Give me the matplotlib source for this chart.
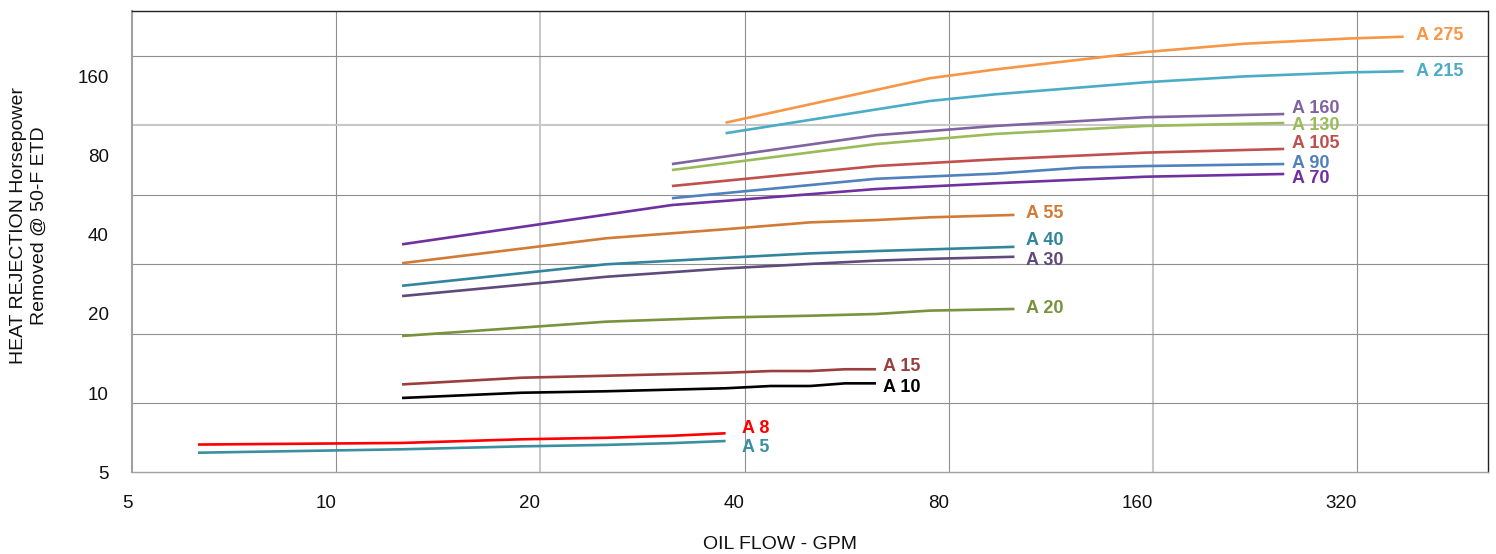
import matplotlib
matplotlib.use("Agg")
import matplotlib.pyplot as plt
from matplotlib.lines import Line2D
from matplotlib.ticker import FixedLocator, NullLocator, FixedFormatter, NullFormatter

plt.rcParams['font.family'] = ['Liberation Sans', 'DejaVu Sans']

# ---------------- data ----------------
x_small = [6.25, 12.5, 18.75, 25, 31.25, 37.5]
x_a10 = [12.5, 18.75, 25, 37.5, 43.75, 50, 56.25, 62.5]
x_mid = [12.5, 25, 37.5, 50, 62.5, 75, 100]
x_a70 = [12.5, 31.25, 62.5, 93.75, 156.25, 250]
x_a90 = [31.25, 62.5, 93.75, 125, 156.25, 250]
x_upper = [31.25, 62.5, 93.75, 156.25, 250]
x_top = [37.5, 75, 93.75, 156.25, 218.75, 312.5, 375]

a5 = [5.94, 6.12, 6.28, 6.36, 6.46, 6.58]
a8 = [6.38, 6.47, 6.68, 6.77, 6.89, 7.04]
a10 = [9.59, 10.04, 10.17, 10.44, 10.65, 10.65, 10.9, 10.9]
a15 = [10.8, 11.45, 11.65, 11.96, 12.14, 12.14, 12.33, 12.33]
a20 = [16.5, 18.7, 19.4, 19.7, 20.0, 20.6, 20.9]
a30 = [23.4, 27.7, 29.8, 31.0, 31.9, 32.4, 33.0]
a40 = [25.6, 30.9, 32.7, 34.0, 34.7, 35.2, 36.0]
a55 = [31.2, 38.8, 42.0, 44.6, 45.5, 46.6, 47.6]
a70 = [36.8, 51.9, 59.7, 62.8, 66.5, 68.1]
a90 = [55.1, 65.3, 68.3, 72.0, 73.0, 74.3]
a105 = [61.3, 73.0, 77.4, 82.1, 84.8]
a130 = [70.5, 88.5, 96.7, 103.7, 106.4]
a160 = [74.3, 95.6, 103.7, 111.9, 115.1]
a215 = [97.3, 129, 136.8, 152, 160, 165.7, 167.3]
a275 = [106.7, 157.4, 170, 198, 213, 223, 226.4]

series_names = ["A 275", "A 215", "A 160", "A 130", "A 105", "A 90", "A 70",
                "A 55", "A 40", "A 30", "A 20", "A 15", "A 10", "A 8", "A 5"]
series_x = [x_top, x_top, x_upper, x_upper, x_upper, x_a90, x_a70,
            x_mid, x_mid, x_mid, x_mid, x_a10, x_a10, x_small, x_small]
series_y = [a275, a215, a160, a130, a105, a90, a70,
            a55, a40, a30, a20, a15, a10, a8, a5]

x_ticks = [5, 10, 20, 40, 80, 160, 320]
y_ticks = [5, 10, 20, 40, 80, 160]

# ---------------- style ----------------
colors = ["#F79646", "#4BACC6", "#8064A2", "#9BBB59", "#C0504D", "#4F81BD", "#7030A0",
          "#D27B36", "#31859C", "#604A7B", "#77933C", "#9B3F3D", "#000000", "#FF0000", "#3A8FA0"]
# label offsets (pixels) from the last point of each line
label_off = [(12, 1), (12, 0), (8, 6), (8, -2), (8, 5), (8, 1), (8, -5),
             (12, 1), (12, 6), (12, -4), (12, 0), (7, 3), (7, -4), (16, 5), (16, -6)]

fig = plt.figure(figsize=(14.96, 5.54), dpi=100)
ax = fig.add_axes([0.0884, 0.1473, 0.9065, 0.8336])

ax.set_xscale('log', base=2)
ax.set_yscale('log', base=2)
ax.set_xlim(5, 500)
ax.set_ylim(5, 284.6)

for xs, ys, c, name, off in zip(series_x, series_y, colors, series_names, label_off):
    ax.plot(xs, ys, color=c, lw=1.9, solid_capstyle='butt', zorder=3)
    ax.annotate(name, xy=(xs[-1], ys[-1]), xytext=off, textcoords='offset pixels',
                ha='left', va='center', color=c, fontsize=13, fontweight='bold',
                zorder=4)

ax.xaxis.set_major_locator(FixedLocator(x_ticks))
ax.xaxis.set_major_formatter(FixedFormatter([str(v) for v in x_ticks]))
ax.xaxis.set_minor_locator(NullLocator())
ax.xaxis.set_minor_formatter(NullFormatter())
ax.yaxis.set_major_locator(FixedLocator(y_ticks))
ax.yaxis.set_major_formatter(FixedFormatter([str(v) for v in y_ticks]))
ax.yaxis.set_minor_locator(NullLocator())
ax.yaxis.set_minor_formatter(NullFormatter())

ax.tick_params(axis='both', length=0, labelsize=13.5, labelcolor='#111111')
ax.tick_params(axis='x', pad=16)
ax.tick_params(axis='y', pad=17)
for lab in ax.get_xticklabels():
    lab.set_horizontalalignment('right')

# vertical grid at x ticks
for v in x_ticks[1:]:
    light = v in (20, 160)
    ax.axvline(v, color='#c8c8c8' if light else '#8f8f8f', lw=1.5 if light else 0.8, zorder=1)

# horizontal grid (evenly spaced in the frame)
for k in range(1, 7):
    f = k * 0.1503
    light = (k == 5)
    ax.add_line(Line2D([0, 1], [f, f], transform=ax.transAxes,
                       color='#c8c8c8' if light else '#8f8f8f', lw=1.5 if light else 0.8, zorder=1))

ax.spines['top'].set_color('#222222')
ax.spines['right'].set_color('#222222')
ax.spines['left'].set_color('#a0a0a0')
ax.spines['bottom'].set_color('#a0a0a0')
for s in ax.spines.values():
    s.set_linewidth(1.0)
ax.spines['left'].set_linewidth(1.5)

ax.set_xlabel("OIL FLOW - GPM", fontsize=14, color='#111111')
ax.xaxis.label.set_va('center')
ax.xaxis.set_label_coords(0.4777, -0.157)

ax.set_ylabel("HEAT REJECTION Horsepower\nRemoved @ 50-F ETD", fontsize=14,
              color='#111111', linespacing=1.25)
ax.yaxis.label.set_va('center')
ax.yaxis.set_label_coords(-0.0762, 0.5336)

fig.savefig("out.png", dpi=100)
